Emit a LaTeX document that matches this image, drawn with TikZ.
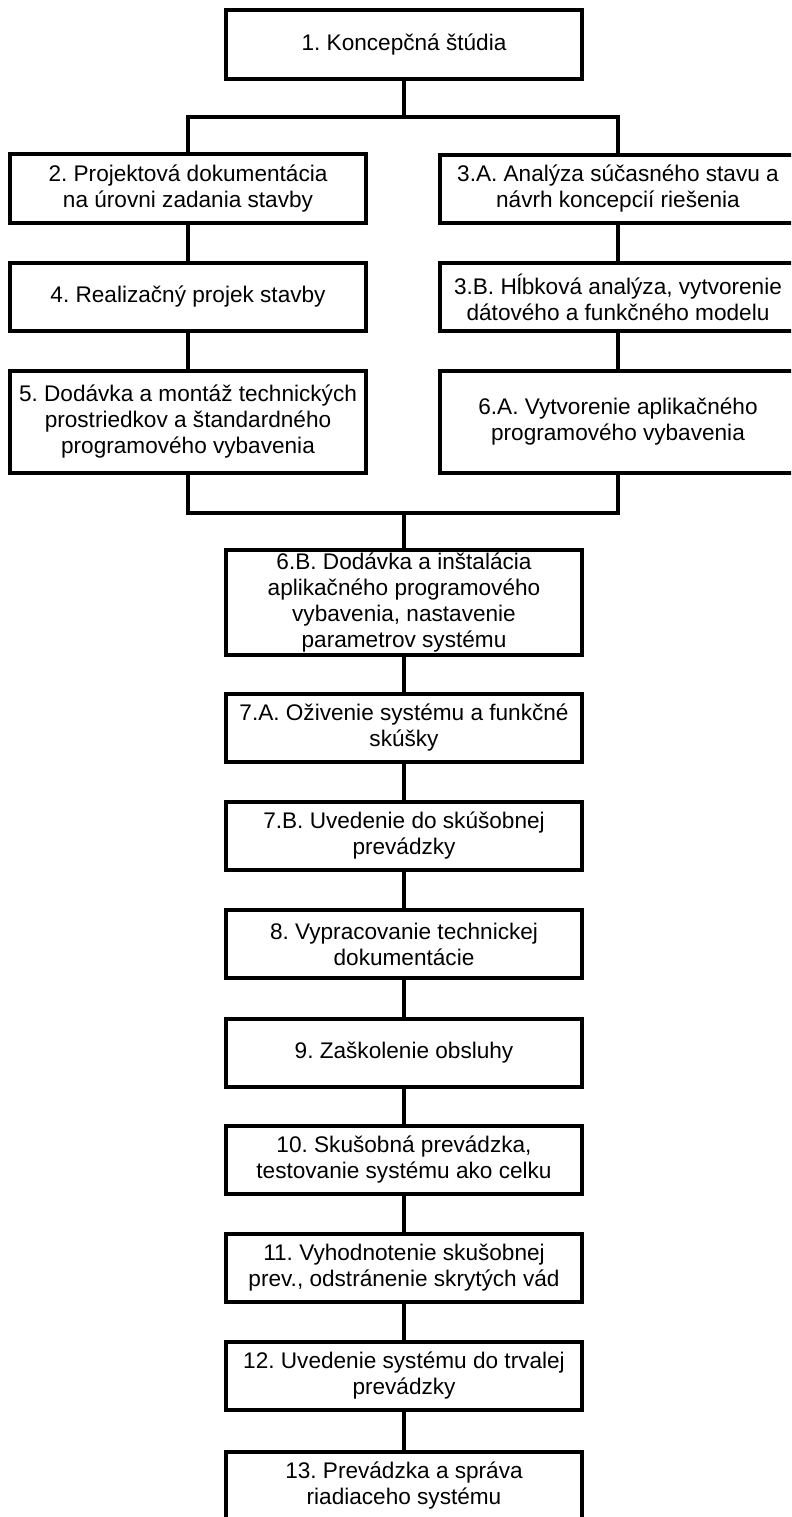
\documentclass[tikz,border=0pt]{standalone}
\usepackage{fontspec}
\setmainfont{Liberation Sans}
\usetikzlibrary{positioning}
\frenchspacing

\begin{document}
\begin{tikzpicture}[x=1bp,y=-1bp,
  phase/.style={draw,line width=4bp,fill=white,inner sep=0pt,align=center,minimum width=356bp,minimum height=#1,font=\fontsize{22.6bp}{26bp}\selectfont},
  phase/.default=68bp,
  link/.style={line width=3.4bp}]
\useasboundingbox (0,0) rectangle (791,1517);
\clip (0,0) rectangle (791,1517);
\node[phase=69bp] (n1) at (404,44.5) {1. Koncepčná štúdia};
\node[phase] (n2) at (188,188.5) {2. Projektová dokumentácia\\na úrovni zadania stavby};
\node[phase] (n3a) at (618,189) {3.A. Analýza súčasného stavu a\\návrh koncepcií riešenia};
\node[phase] (n4) at (188,297) {4. Realizačný projek stavby};
\node[phase] (n3b) at (618,297) {3.B. Hĺbková analýza, vytvorenie\\dátového a funkčného modelu};
\node[phase=102bp] (n5) at (188,422) {5. Dodávka a montáž technických\\prostriedkov a štandardného\\programového vybavenia};
\node[phase=102bp] (n6a) at (618,422) {6.A. Vytvorenie aplikačného\\programového vybavenia};
\node[phase=105bp] (n6b) at (404,602.5) {6.B. Dodávka a inštalácia\\aplikačného programového\\vybavenia, nastavenie\\parametrov systému};
\node[phase] (n7a) at (404,727.5) {7.A. Oživenie systému a funkčné\\skúšky};
\node[phase] (n7b) at (404,836) {7.B. Uvedenie do skúšobnej\\prevádzky};
\node[phase] (n8) at (404,944) {8. Vypracovanie technickej\\dokumentácie};
\node[phase] (n9) at (404,1052.5) {9. Zaškolenie obsluhy};
\node[phase] (n10) at (404,1160) {10. Skušobná prevádzka,\\testovanie systému ako celku};
\node[phase] (n11) at (404,1268) {11. Vyhodnotenie skušobnej\\prev., odstránenie skrytých vád};
\node[phase] (n12) at (404,1376) {12. Uvedenie systému do trvalej\\prevádzky};
\node[phase] (n13) at (404,1486) {13. Prevádzka a správa\\riadiaceho systému};
\coordinate (fork) at (404,117);
\coordinate (join) at (404,513);
\draw[link] (n1) -- (fork);
\draw[link] (n2.north) |- (fork) -| (n3a.north);
\draw[link] (n2) -- (n4);
\draw[link] (n4) -- (n5);
\draw[link] (n3a) -- (n3b);
\draw[link] (n3b) -- (n6a);
\draw[link] (n5.south) |- (join) -| (n6a.south);
\draw[link] (join) -- (n6b);
\foreach \a/\b in {n6b/n7a,n7a/n7b,n7b/n8,n8/n9,n9/n10,n10/n11,n11/n12,n12/n13}
  \draw[link] (\a) -- (\b);
\end{tikzpicture}
\end{document}
